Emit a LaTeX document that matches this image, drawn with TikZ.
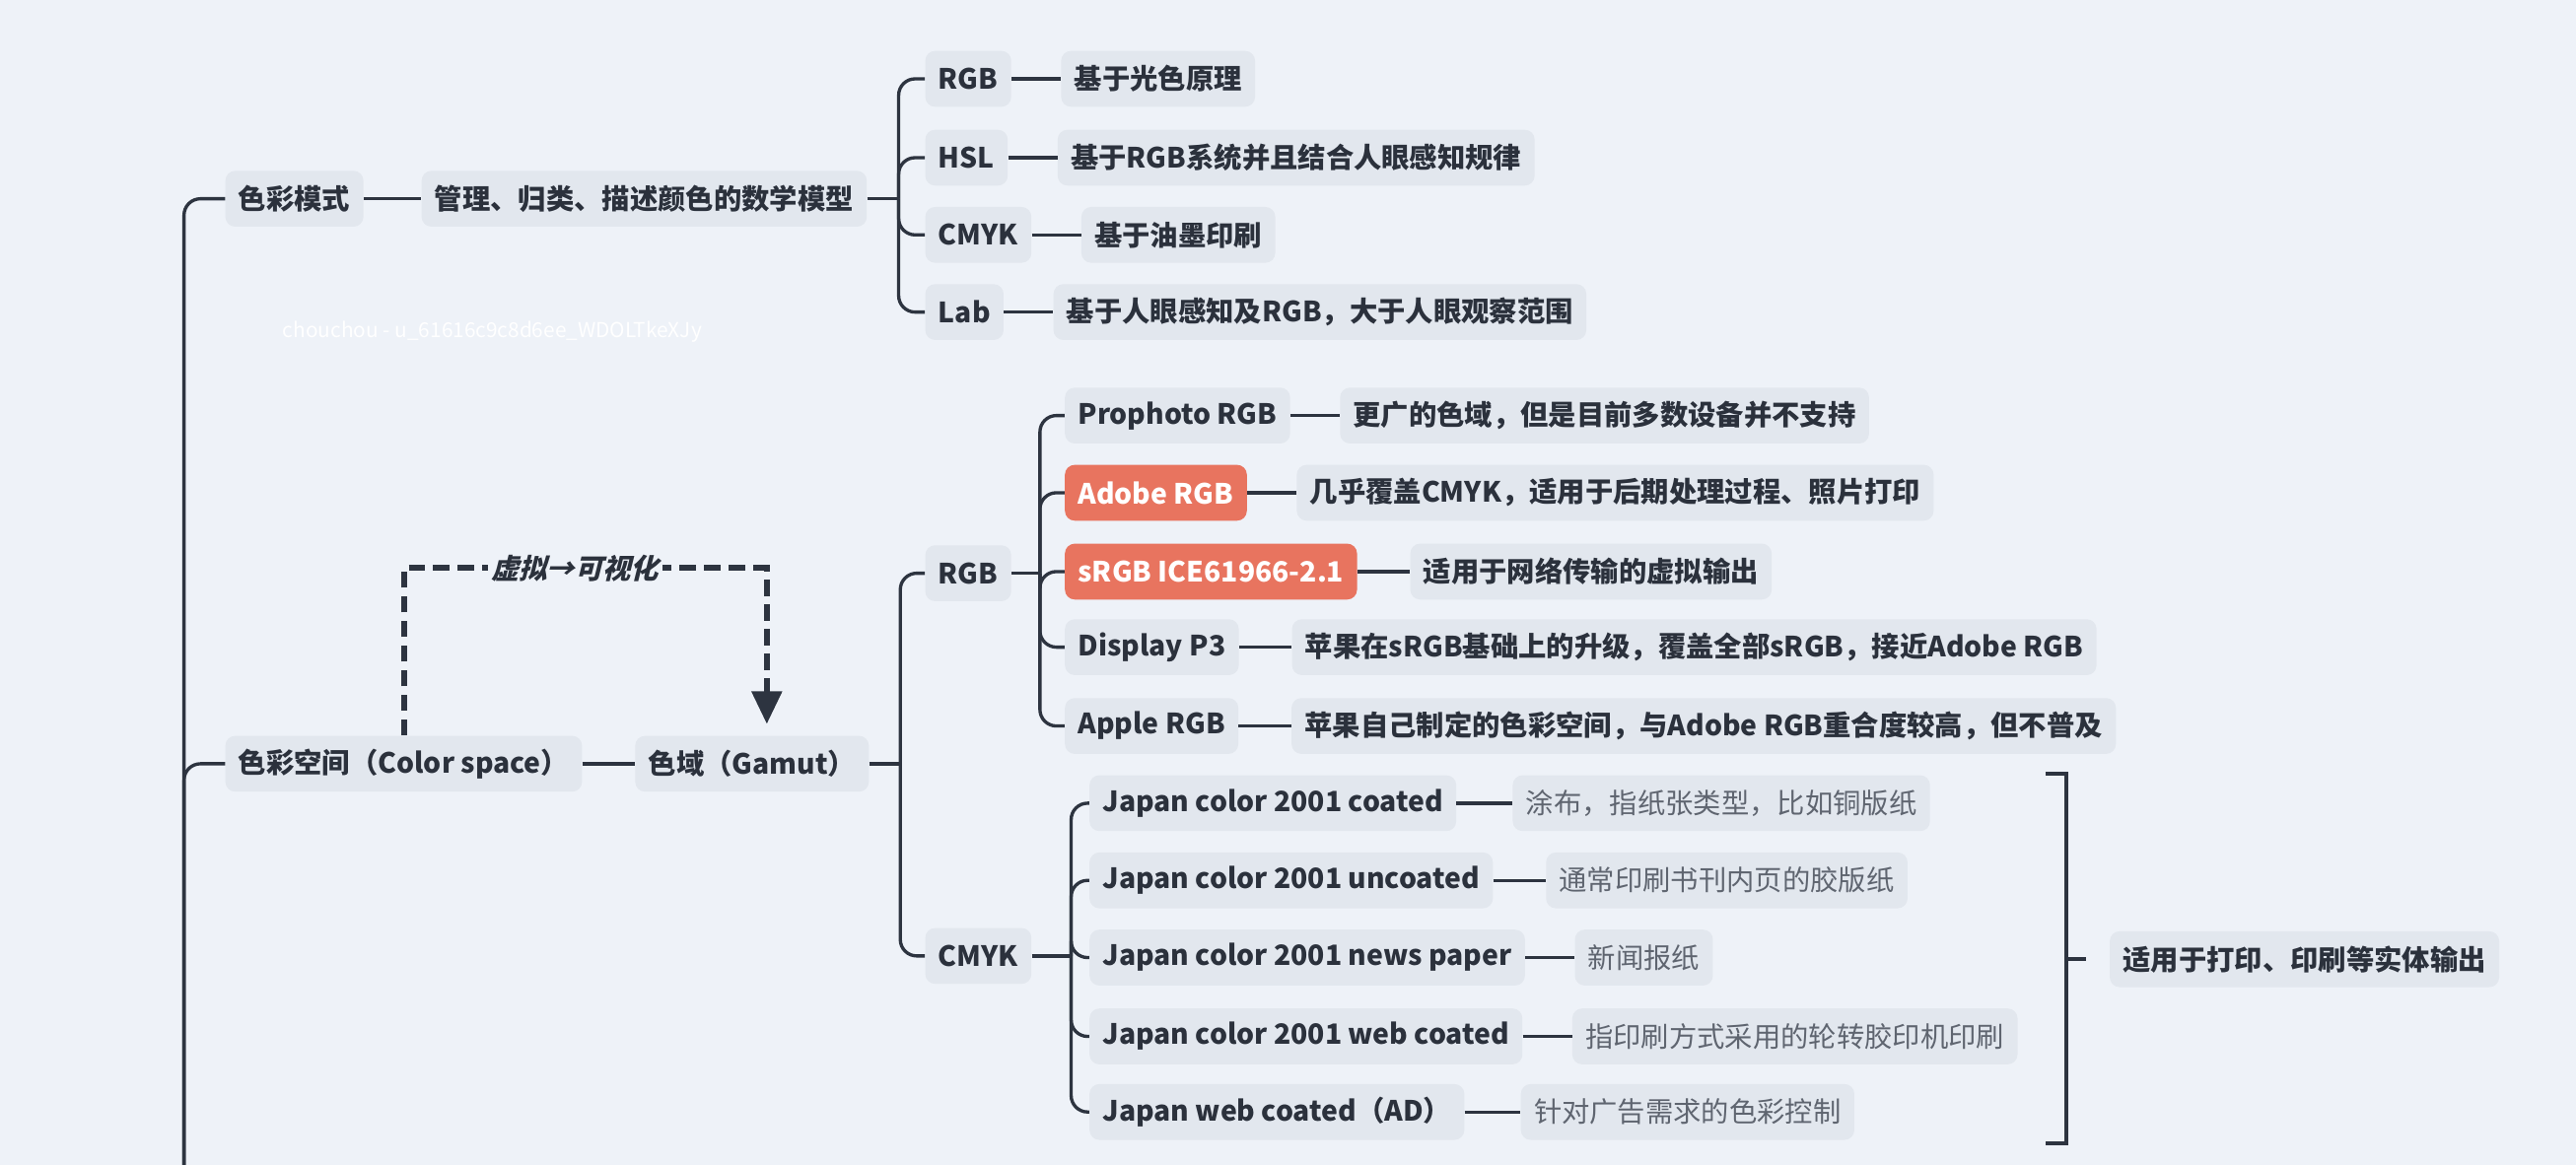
\documentclass[tikz,border=0pt]{standalone}
\usepackage{fontspec}
\setmainfont{Noto Sans CJK SC}
\newfontfamily\cjkit{Noto Sans CJK SC}[FakeSlant=0.25]
\usetikzlibrary{arrows.meta,positioning}
\definecolor{bgc}{HTML}{EEF2F8}
\definecolor{nodec}{HTML}{E2E7EE}
\definecolor{txtc}{HTML}{2B313C}
\definecolor{linec}{HTML}{2D3440}
\definecolor{redc}{HTML}{E8745F}
\definecolor{greytxt}{HTML}{5F6570}
\begin{document}
\begin{tikzpicture}[x=1pt,y=-1pt,
  box/.style={fill=nodec, rounded corners=6pt, minimum height=34pt, inner xsep=8pt, inner ysep=0pt,
    text=txtc, font=\fontsize{17}{20}\selectfont\bfseries, anchor=west},
  redbox/.style={box, fill=redc, text=white},
  greybox/.style={box, text=greytxt, font=\fontsize{17}{20}\selectfont},
  link/.style={draw=linec, line width=2pt, rounded corners=10pt},
  dashline/.style={draw=linec, line width=3.6pt, dash pattern=on 10pt off 5pt},
  lbl/.style={fill=bgc, text=txtc, inner xsep=2pt, inner ysep=1pt, font=\fontsize{17}{20}\cjkit\bfseries}
]
\useasboundingbox (0,0) rectangle (1568,709);
\clip (0,0) rectangle (1568,709);
\fill[bgc] (0,0) rectangle (1568,709);

% watermark
\node[text=white, font=\fontsize{12.5}{14}\selectfont, anchor=west, inner sep=0pt] (wm) at (172,202) {chouchou - u\_61616c9c8d6ee\_WDOLTkeXJy};

% level 1
\node[box] (m1) at (137,121) {色彩模式};
\node[box] (m2) at (137,465) {色彩空间（Color space）};
\coordinate (root) at (112,760);
\draw[link] (root) |- (m1.west);
\draw[link] (root) |- (m2.west);

% colour modes
\node[box, right=35pt of m1] (m1d) {管理、归类、描述颜色的数学模型};
\node[box] (a1) at (563,48) {RGB};
\node[box] (a2) at (563,96) {HSL};
\node[box] (a3) at (563,143) {CMYK};
\node[box] (a4) at (563,190) {Lab};
\node[box, right=30pt of a1] (a1d) {基于光色原理};
\node[box, right=30pt of a2] (a2d) {基于RGB系统并且结合人眼感知规律};
\node[box, right=30pt of a3] (a3d) {基于油墨印刷};
\node[box, right=30pt of a4] (a4d) {基于人眼感知及RGB，大于人眼观察范围};
\coordinate (b1) at (547,121);
\draw[link] (m1.east) -- (m1d.west);
\draw[link] (m1d.east) -- (b1);
\foreach \n in {a1,a2,a3,a4} \draw[link] (b1) |- (\n.west);
\foreach \n in {a1,a2,a3,a4} \draw[link] (\n.east) -- (\n d.west);

% colour space
\node[box, right=32pt of m2] (g) {色域（Gamut）};
\draw[link] (m2.east) -- (g.west);
\draw[dashline, -{Triangle[length=20pt,width=18pt]}, shorten >=7pt] (m2.north) -- ++(0,-102) -| ([xshift=9pt]g.north);
\node[lbl] (vl) at (350,346) {虚拟→可视化};

\node[box] (r) at (563,349) {RGB};
\node[box] (c) at (563,582) {CMYK};
\coordinate (b2) at (548,465);
\draw[link] (g.east) -- (b2);
\draw[link] (b2) |- (r.west);
\draw[link] (b2) |- (c.west);

% RGB spaces
\node[box] (p1) at (648,253) {Prophoto RGB};
\node[redbox] (p2) at (648,300) {Adobe RGB};
\node[redbox] (p3) at (648,348) {sRGB ICE61966-2.1};
\node[box] (p4) at (648,394) {Display P3};
\node[box] (p5) at (648,442) {Apple RGB};
\node[box, right=30pt of p1] (p1d) {更广的色域，但是目前多数设备并不支持};
\node[box, right=30pt of p2] (p2d) {几乎覆盖CMYK，适用于后期处理过程、照片打印};
\node[box, right=32pt of p3] (p3d) {适用于网络传输的虚拟输出};
\node[box, right=32pt of p4] (p4d) {苹果在sRGB基础上的升级，覆盖全部sRGB，接近Adobe RGB};
\node[box, right=32pt of p5] (p5d) {苹果自己制定的色彩空间，与Adobe RGB重合度较高，但不普及};
\coordinate (b3) at (633,349);
\draw[link] (r.east) -- (b3);
\foreach \n in {p1,p2,p3,p4,p5} \draw[link] (b3) |- (\n.west);
\foreach \n in {p1,p2,p3,p4,p5} \draw[link] (\n.east) -- (\n d.west);

% CMYK spaces
\node[box] (j1) at (663,489) {Japan color 2001 coated};
\node[box] (j2) at (663,536) {Japan color 2001 uncoated};
\node[box] (j3) at (663,583) {Japan color 2001 news paper};
\node[box] (j4) at (663,631) {Japan color 2001 web coated};
\node[box] (j5) at (663,677) {Japan web coated（AD）};
\node[greybox, right=34pt of j1] (j1d) {涂布，指纸张类型，比如铜版纸};
\node[greybox, right=32pt of j2] (j2d) {通常印刷书刊内页的胶版纸};
\node[greybox, right=30pt of j3] (j3d) {新闻报纸};
\node[greybox, right=30pt of j4] (j4d) {指印刷方式采用的轮转胶印机印刷};
\node[greybox, right=34pt of j5] (j5d) {针对广告需求的色彩控制};
\coordinate (b4) at (652,582);
\draw[link] (c.east) -- (b4);
\foreach \n in {j1,j2,j3,j4,j5} \draw[link] (b4) |- (\n.west);
\foreach \n in {j1,j2,j3,j4,j5} \draw[link] (\n.east) -- (\n d.west);

% summary bracket
\coordinate (st) at (1245,471);
\coordinate (sb) at (1245,696);
\coordinate (sm) at (1258,584);
\draw[draw=linec, line width=2.4pt] (st) -- (1258,471) -- (1258,696) -- (sb);
\draw[draw=linec, line width=2.4pt] (sm) -- ++(12,0);
\node[box] (out) at (1284,584) {适用于打印、印刷等实体输出};
\end{tikzpicture}
\end{document}
